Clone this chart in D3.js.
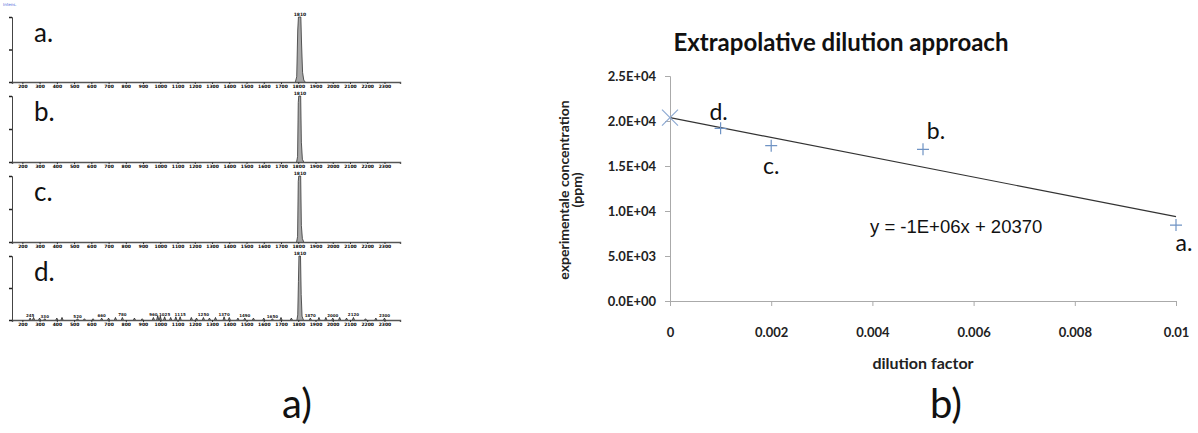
<!DOCTYPE html>
<html>
<head>
<meta charset="utf-8">
<script src="https://cdn.jsdelivr.net/npm/d3@7"></script>
<style>
  body { margin: 0; background: #fff; }
  svg { display: block; }
</style>
</head>
<body>
<div id="graf"></div>
<script>
// ---- left: mass spectra a.-d. ----
const specNames = ['a.', 'b.', 'c.', 'd.']
const specTicks = [200, 300, 400, 500, 600, 700, 800, 900, 1000, 1100, 1200, 1300,
  1400, 1500, 1600, 1700, 1800, 1900, 2000, 2100, 2200, 2300]
const peakMz = 1810
// main peak profile per spectrum: [m/z, relative intensity %]
const peakA = [[1783, 0], [1791, 8], [1797, 80], [1801, 100], [1815, 100], [1819, 60], [1825, 15], [1832, 3], [1840, 0]]
const peakB = [[1790, 0], [1796, 8], [1800, 90], [1803, 100], [1814, 100], [1818, 30], [1824, 4], [1832, 0]]
const peakC = [[1790, 0], [1796, 8], [1800, 92], [1803, 100], [1814, 100], [1818, 25], [1824, 5], [1832, 0]]
const peakD = [[1792, 0], [1797, 8], [1801, 60], [1804, 100], [1813, 100], [1817, 40], [1822, 6], [1830, 0]]
const peaks = [peakA, peakB, peakC, peakD]
// background peaks in spectrum d.: [m/z, intensity %]
const noiseD = [[245, 3], [265, 4], [300, 3], [330, 2], [400, 3], [430, 4], [520, 2], [560, 2],
  [610, 2], [660, 3], [700, 3], [740, 4], [780, 4], [850, 3], [895, 2], [960, 4], [985, 7],
  [1000, 6], [1025, 5], [1060, 4], [1090, 5], [1115, 5], [1180, 4], [1210, 3], [1250, 4],
  [1285, 3], [1320, 4], [1370, 5], [1400, 4], [1450, 3], [1490, 3], [1540, 3], [1600, 3],
  [1650, 2], [1700, 4], [1760, 3], [1870, 3], [1920, 4], [1960, 4], [2000, 3], [2040, 4],
  [2080, 3], [2120, 4], [2190, 2], [2250, 3], [2300, 3]]

// ---- right: extrapolative dilution ----
const pointNames = ['a.', 'b.', 'c.', 'd.']
const dilution = [0.01, 0.005, 0.002, 0.001]
const concentration = [8440, 16850, 17260, 19190]
const intercept = 20370
const slope = -1.1e6
const xTicks = [0, 0.002, 0.004, 0.006, 0.008, 0.01]
const xTickLabels = ['0', '0.002', '0.004', '0.006', '0.008', '0.01']
const yTicks = [0, 5000, 10000, 15000, 20000, 25000]
const yTickLabels = ['0.0E+00', '5.0E+03', '1.0E+04', '1.5E+04', '2.0E+04', '2.5E+04']

const ancho = 1198
const alto = 433

const svg = d3.select('#graf').append('svg')
    .attr('width', ancho)
    .attr('height', alto)

// spectra
const xs = d3.scaleLinear().domain([140, 2390]).range([12, 400])
const tops = [17, 96, 176, 256]
const baselines = [82, 162, 242, 320]

specNames.forEach((name, i) => {
  const ys = d3.scaleLinear().domain([0, 100]).range([baselines[i], tops[i]])
  const g = svg.append('g')

  // noise peaks (only d.)
  if (i === 3) {
    g.selectAll('path.noise')
      .data(noiseD)
      .enter().append('path')
      .attr('class', 'noise')
      .attr('d', d => `M${xs(d[0] - 6)},${ys(0)}L${xs(d[0])},${ys(d[1])}L${xs(d[0] + 6)},${ys(0)}`)
      .attr('fill', '#999').attr('stroke', '#222').attr('stroke-width', 0.8)
    g.selectAll('text.nl')
      .data(noiseD.filter((d, k) => k % 3 === 0))
      .enter().append('text')
      .attr('class', 'nl')
      .attr('x', d => xs(d[0]))
      .attr('y', d => ys(d[1]) - 1)
      .attr('text-anchor', 'middle')
      .attr('font-family', 'DejaVu Sans')
      .attr('font-weight', 'bold')
      .attr('font-size', 4)
      .attr('fill', '#222')
      .text(d => d[0])
  }

  const area = d3.area().x(d => xs(d[0])).y0(ys(0)).y1(d => ys(d[1]))
  g.append('path')
    .datum(peaks[i])
    .attr('d', area)
    .attr('fill', '#a8a8a8')
  const line = d3.line().x(d => xs(d[0])).y(d => ys(d[1]))
  g.append('path')
    .datum(peaks[i])
    .attr('d', line)
    .attr('fill', 'none')
    .attr('stroke', '#333')
    .attr('stroke-width', 0.8)

  // peak label
  g.append('text')
    .attr('x', xs(peakMz)).attr('y', ys(100) - 1)
    .attr('text-anchor', 'middle')
    .attr('font-family', 'DejaVu Sans').attr('font-weight', 'bold')
    .attr('font-size', 4.5).attr('fill', '#111')
    .text(peakMz)

  // x axis with tiny labels
  const ax = g.append('g')
    .attr('transform', `translate(0,${baselines[i]})`)
    .call(d3.axisBottom(xs).tickValues(specTicks).tickSize(2).tickPadding(1)
      .tickFormat(d3.format('d')))
  ax.select('.domain').attr('stroke', '#555').attr('stroke-width', 1.4)
  ax.selectAll('.tick line').attr('stroke', '#333')
  ax.selectAll('.tick text')
    .attr('font-family', 'DejaVu Sans').attr('font-weight', 'bold')
    .attr('font-size', 4.5).attr('fill', '#000')

  // y axis
  const ay = g.append('g')
    .attr('transform', `translate(12,0)`)
    .call(d3.axisLeft(ys).tickValues([0, 50, 100]).tickSize(3).tickFormat(''))
  ay.select('.domain').attr('stroke', '#444')
  ay.selectAll('.tick line').attr('stroke', '#222').attr('stroke-width', 1.5)

  g.append('text')
    .attr('x', 34).attr('y', tops[i] + 25)
    .attr('font-family', 'Lato').attr('font-size', 26)
    .attr('fill', '#111')
    .text(name)
})

svg.append('text')
  .attr('x', 3).attr('y', 6)
  .attr('font-family', 'DejaVu Sans').attr('font-size', 4)
  .attr('fill', '#4a5fd8')
  .text('Intens.')

// dilution chart
const x = d3.scaleLinear().domain([0, 0.01]).range([670, 1176])
const y = d3.scaleLinear().domain([0, 25000]).range([301, 76])

const gx = svg.append('g')
  .attr('transform', `translate(0,${y(0)})`)
  .call(d3.axisBottom(x).tickValues(xTicks).tickSize(5).tickPadding(22)
    .tickFormat((d, i) => xTickLabels[i]))
gx.select('.domain').attr('stroke', '#aaa')
gx.selectAll('.tick line').attr('stroke', '#aaa')
gx.selectAll('.tick text')
  .attr('font-family', 'Lato').attr('font-weight', 'bold')
  .attr('font-size', 13).attr('fill', '#222')

const gy = svg.append('g')
  .attr('transform', `translate(${x(0)},0)`)
  .call(d3.axisLeft(y).tickValues(yTicks).tickSize(5).tickPadding(9)
    .tickFormat((d, i) => yTickLabels[i]))
gy.select('.domain').attr('stroke', '#aaa')
gy.selectAll('.tick line').attr('stroke', '#aaa')
gy.selectAll('.tick text')
  .attr('font-family', 'Lato').attr('font-weight', 'bold')
  .attr('font-size', 13).attr('fill', '#222')

// trend line
svg.append('line')
  .attr('x1', x(0)).attr('y1', y(intercept))
  .attr('x2', x(0.01)).attr('y2', y(intercept + slope * 0.01))
  .attr('stroke', '#333').attr('stroke-width', 1.2)

// intercept marker (x)
svg.append('path')
  .attr('d', `M${x(0) - 8},${y(intercept) - 8}L${x(0) + 8},${y(intercept) + 8}M${x(0) - 8},${y(intercept) + 8}L${x(0) + 8},${y(intercept) - 8}`)
  .attr('stroke', '#8eaad2').attr('stroke-width', 1.2)

// data markers (+)
const pts = dilution.map((d, i) => ({ x: d, y: concentration[i], name: pointNames[i] }))
svg.selectAll('path.pt')
  .data(pts)
  .enter().append('path')
  .attr('class', 'pt')
  .attr('d', d => `M${x(d.x) - 6},${y(d.y)}L${x(d.x) + 6},${y(d.y)}M${x(d.x)},${y(d.y) - 6}L${x(d.x)},${y(d.y) + 6}`)
  .attr('stroke', '#6f93c4').attr('stroke-width', 1.2)

// point labels
const labOffset = { 'a.': [8, 26], 'b.': [13, -10], 'c.': [0, 28], 'd.': [-2, -8] }
svg.selectAll('text.pl')
  .data(pts)
  .enter().append('text')
  .attr('class', 'pl')
  .attr('x', d => x(d.x) + labOffset[d.name][0])
  .attr('y', d => y(d.y) + labOffset[d.name][1])
  .attr('text-anchor', 'middle')
  .attr('font-family', 'Lato').attr('font-size', 23)
  .attr('fill', '#111')
  .text(d => d.name)

svg.append('text')
  .attr('x', 870).attr('y', 233)
  .attr('font-family', 'Liberation Sans').attr('font-size', 18.5)
  .attr('fill', '#111')
  .text(`y = -1E+06x + ${intercept}`)

svg.append('text')
  .attr('x', 841).attr('y', 51)
  .attr('text-anchor', 'middle')
  .attr('font-family', 'Lato').attr('font-weight', 'bold')
  .attr('font-size', 24).attr('fill', '#111')
  .text('Extrapolative dilution approach')

svg.append('text')
  .attr('x', 923).attr('y', 369)
  .attr('text-anchor', 'middle')
  .attr('font-family', 'Lato').attr('font-weight', 'bold')
  .attr('font-size', 16).attr('fill', '#222')
  .text('dilution factor')

const ylab = svg.append('text')
  .attr('transform', 'translate(569,190) rotate(-90)')
  .attr('text-anchor', 'middle')
  .attr('font-family', 'Lato').attr('font-weight', 'bold')
  .attr('font-size', 14).attr('fill', '#222')
ylab.append('tspan').attr('x', 0).attr('dy', 0).text('experimentale concentration')
ylab.append('tspan').attr('x', 0).attr('dy', 13).text('(ppm)')

svg.append('text')
  .attr('x', 297).attr('y', 418)
  .attr('text-anchor', 'middle')
  .attr('font-family', 'Lato')
  .attr('font-size', 40).attr('fill', '#111')
  .text('a)')

svg.append('text')
  .attr('x', 946).attr('y', 418)
  .attr('text-anchor', 'middle')
  .attr('font-family', 'Lato')
  .attr('font-size', 40).attr('fill', '#111')
  .text('b)')
</script>
</body>
</html>
